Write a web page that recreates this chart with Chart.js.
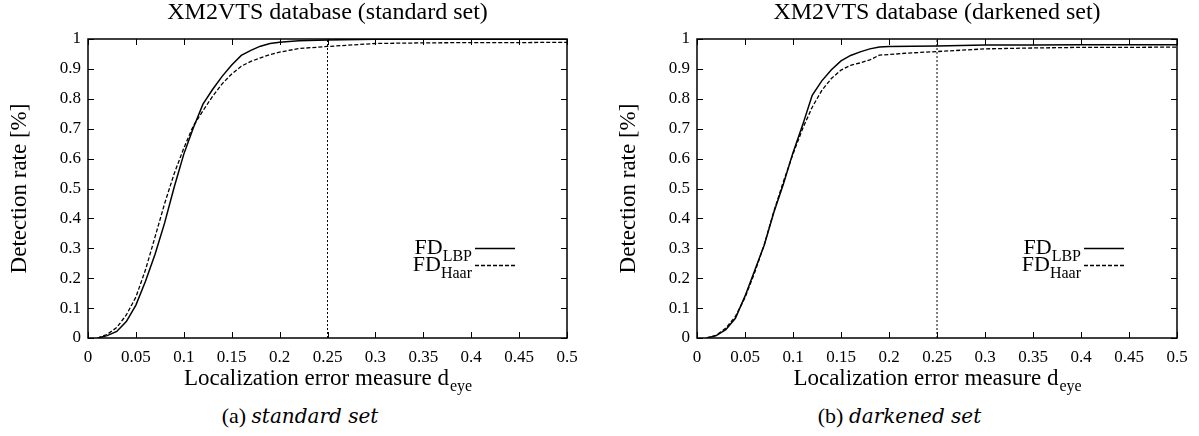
<!DOCTYPE html>
<html><head><meta charset="utf-8">
<script src="https://cdn.jsdelivr.net/npm/chart.js@4.4.0/dist/chart.umd.min.js"></script>
<style>
html,body{margin:0;padding:0;background:#fff;overflow:hidden;width:1199px;height:436px;}
.wrap{position:absolute;top:0;height:400px;}
.cap{position:absolute;top:403px;text-align:center;font-family:'Liberation Serif',serif;font-size:22px;color:#000;line-height:26px;}
.cap i{font-family:'DejaVu Serif',serif;font-size:20px;}
</style></head><body>
<div class="wrap" style="left:0;width:600px"><canvas id="c1" width="600" height="400"></canvas></div>
<div class="wrap" style="left:609px;width:590px"><canvas id="c2" width="590" height="400"></canvas></div>
<div class="cap" style="left:0;width:600px">(a) <i>standard set</i></div>
<div class="cap" style="left:600px;width:599px">(b) <i>darkened set</i></div>
<script>
// ---- data ----
const xTicks = [0, 0.05, 0.1, 0.15, 0.2, 0.25, 0.3, 0.35, 0.4, 0.45, 0.5];
const xTickLabels = ['0', '0.05', '0.1', '0.15', '0.2', '0.25', '0.3', '0.35', '0.4', '0.45', '0.5'];
const yTicks = [0, 0.1, 0.2, 0.3, 0.4, 0.5, 0.6, 0.7, 0.8, 0.9, 1];
const yTickLabels = ['0', '0.1', '0.2', '0.3', '0.4', '0.5', '0.6', '0.7', '0.8', '0.9', '1'];
const titles = ['XM2VTS database (standard set)', 'XM2VTS database (darkened set)'];
const xAxisTitle = 'Localization error measure d';
const xAxisTitleSub = 'eye';
const yAxisTitle = 'Detection rate [%]';
const seriesNames = ['FD', 'FD'];
const seriesSubs = ['LBP', 'Haar'];
const refLineX = 0.25;

// standard set
const stdLbpX  = [0.01, 0.02, 0.03, 0.04, 0.05, 0.06, 0.07, 0.08, 0.09, 0.1, 0.11, 0.12, 0.13, 0.14, 0.15, 0.16, 0.17, 0.18, 0.19, 0.2, 0.22, 0.25, 0.3, 0.35, 0.4, 0.45, 0.5];
const stdLbpY  = [0, 0.008, 0.022, 0.055, 0.11, 0.19, 0.28, 0.385, 0.505, 0.615, 0.703, 0.782, 0.831, 0.875, 0.913, 0.945, 0.962, 0.976, 0.985, 0.989, 0.994, 0.997, 0.999, 0.999, 0.999, 0.999, 0.999];
const stdHaarX = [0.01, 0.02, 0.03, 0.04, 0.05, 0.06, 0.07, 0.08, 0.09, 0.1, 0.11, 0.12, 0.13, 0.14, 0.15, 0.16, 0.17, 0.18, 0.19, 0.2, 0.22, 0.25, 0.3, 0.35, 0.4, 0.45, 0.5];
const stdHaarY = [0, 0.012, 0.035, 0.077, 0.137, 0.228, 0.338, 0.45, 0.55, 0.635, 0.71, 0.76, 0.808, 0.85, 0.883, 0.909, 0.925, 0.937, 0.948, 0.956, 0.968, 0.975, 0.985, 0.987, 0.988, 0.988, 0.989];
// darkened set
const darkLbpX  = [0.01, 0.02, 0.03, 0.04, 0.05, 0.06, 0.07, 0.08, 0.09, 0.1, 0.11, 0.12, 0.13, 0.14, 0.15, 0.16, 0.17, 0.18, 0.19, 0.2, 0.25, 0.3, 0.35, 0.4, 0.45, 0.5];
const darkLbpY  = [0, 0.008, 0.028, 0.066, 0.14, 0.225, 0.31, 0.42, 0.515, 0.62, 0.712, 0.812, 0.86, 0.897, 0.927, 0.945, 0.957, 0.967, 0.973, 0.975, 0.977, 0.98, 0.98, 0.981, 0.981, 0.981];
const darkHaarX = [0.01, 0.02, 0.03, 0.04, 0.05, 0.06, 0.07, 0.08, 0.09, 0.1, 0.11, 0.12, 0.13, 0.14, 0.15, 0.16, 0.17, 0.18, 0.19, 0.2, 0.22, 0.25, 0.3, 0.35, 0.4, 0.45, 0.5];
const darkHaarY = [0, 0.009, 0.033, 0.072, 0.135, 0.218, 0.312, 0.423, 0.523, 0.615, 0.7, 0.772, 0.828, 0.868, 0.896, 0.912, 0.92, 0.93, 0.946, 0.948, 0.953, 0.958, 0.967, 0.97, 0.972, 0.972, 0.973];

const SERIF = "'Liberation Serif', 'Times New Roman', serif";
const pts = (xs, ys) => xs.map((x, i) => ({x, y: ys[i]}));

const gnuplotDecor = {
  id: 'gnuplotDecor',
  afterDraw(chart, args, opts) {
    const {ctx, chartArea: a} = chart;
    const xs = chart.scales.x, ys = chart.scales.y;
    ctx.save();
    ctx.strokeStyle = '#000';
    ctx.fillStyle = '#000';
    // ticks (inward, mirrored)
    ctx.lineWidth = 1;
    const tl = 6;
    ctx.beginPath();
    xTicks.forEach(v => {
      const p = Math.round(xs.getPixelForValue(v)) + 0.5;
      ctx.moveTo(p, a.bottom); ctx.lineTo(p, a.bottom - tl);
      ctx.moveTo(p, a.top); ctx.lineTo(p, a.top + tl);
    });
    yTicks.forEach(v => {
      const p = Math.round(ys.getPixelForValue(v)) + 0.5;
      ctx.moveTo(a.left, p); ctx.lineTo(a.left + tl, p);
      ctx.moveTo(a.right, p); ctx.lineTo(a.right - tl, p);
    });
    ctx.stroke();
    // frame
    ctx.lineWidth = 1.5;
    ctx.strokeRect(a.left, a.top, a.right - a.left, a.bottom - a.top);
    // title
    const cx = (a.left + a.right) / 2;
    ctx.textBaseline = 'middle';
    ctx.textAlign = 'center';
    ctx.font = '24px ' + SERIF;
    ctx.fillText(opts.title, cx, 13);
    // x axis title with subscript
    ctx.font = '23px ' + SERIF;
    const w1 = ctx.measureText(xAxisTitle).width;
    ctx.font = '16px ' + SERIF;
    const w2 = ctx.measureText(xAxisTitleSub).width;
    let sx = cx - (w1 + w2) / 2;
    ctx.textAlign = 'left';
    ctx.textBaseline = 'alphabetic';
    ctx.font = '23px ' + SERIF;
    ctx.fillText(xAxisTitle, sx, 385);
    ctx.font = '16px ' + SERIF;
    ctx.fillText(xAxisTitleSub, sx + w1 + 1, 391);
    // y axis title
    ctx.save();
    ctx.translate(20, (a.top + a.bottom) / 2);
    ctx.rotate(-Math.PI / 2);
    ctx.textAlign = 'center';
    ctx.textBaseline = 'middle';
    ctx.font = '23px ' + SERIF;
    ctx.fillText(yAxisTitle, 0, 0);
    ctx.restore();
    // legend
    const lineX0 = a.left + 387, lineX1 = a.left + 427;
    const rows = [248, 265];
    chart.data.datasets.slice(0, 2).forEach((ds, i) => {
      const y = rows[i];
      ctx.font = '16px ' + SERIF;
      const sw = ctx.measureText(seriesSubs[i]).width;
      ctx.font = '22px ' + SERIF;
      const mw = ctx.measureText(seriesNames[i]).width;
      const right = lineX0 - 3;
      ctx.textAlign = 'left';
      ctx.textBaseline = 'alphabetic';
      ctx.fillText(seriesNames[i], right - sw - mw, y + 6);
      ctx.font = '16px ' + SERIF;
      ctx.fillText(seriesSubs[i], right - sw, y + 13);
      ctx.beginPath();
      ctx.lineWidth = ds.borderWidth;
      ctx.setLineDash(ds.borderDash || []);
      ctx.moveTo(lineX0, y + 0.5); ctx.lineTo(lineX1, y + 0.5);
      ctx.stroke();
      ctx.setLineDash([]);
    });
    ctx.restore();
  }
};

function makeChart(id, title, lbp, haar, padRight) {
  return new Chart(document.getElementById(id), {
    type: 'line',
    data: {
      datasets: [
        {data: lbp, borderColor: '#000', borderWidth: 1.5, pointRadius: 0, tension: 0, fill: false},
        {data: haar, borderColor: '#000', borderWidth: 1.3, borderDash: [4, 2], pointRadius: 0, tension: 0, fill: false},
        {data: [{x: refLineX, y: 0}, {x: refLineX, y: 1}], borderColor: '#000', borderWidth: 1, borderDash: [2, 2], pointRadius: 0, fill: false}
      ]
    },
    options: {
      responsive: false,
      animation: false,
      devicePixelRatio: 1,
      layout: {padding: {left: 0, right: padRight, top: 39, bottom: 0}},
      plugins: {legend: {display: false}, tooltip: {enabled: false}, title: {display: false},
                gnuplotDecor: {title}},
      scales: {
        x: {
          type: 'linear', min: 0, max: 0.5,
          afterBuildTicks: s => { s.ticks = xTicks.map(v => ({value: v})); },
          afterFit: s => { s.height = 62; },
          grid: {display: false, drawTicks: false},
          border: {display: false},
          ticks: {autoSkip: false, maxRotation: 0, padding: 9, color: '#000',
                  font: {family: SERIF, size: 17},
                  callback: (v) => xTickLabels[xTicks.findIndex(t => Math.abs(t - v) < 1e-9)]}
        },
        y: {
          type: 'linear', min: 0, max: 1,
          afterBuildTicks: s => { s.ticks = yTicks.map(v => ({value: v})); },
          afterFit: s => { s.width = 88; },
          grid: {display: false, drawTicks: false},
          border: {display: false},
          ticks: {autoSkip: false, padding: 7, color: '#000',
                  font: {family: SERIF, size: 17},
                  callback: (v) => yTickLabels[yTicks.findIndex(t => Math.abs(t - v) < 1e-9)]}
        }
      }
    },
    plugins: [gnuplotDecor]
  });
}

makeChart('c1', titles[0], pts(stdLbpX, stdLbpY), pts(stdHaarX, stdHaarY), 33);
makeChart('c2', titles[1], pts(darkLbpX, darkLbpY), pts(darkHaarX, darkHaarY), 22);
</script>
</body></html>
